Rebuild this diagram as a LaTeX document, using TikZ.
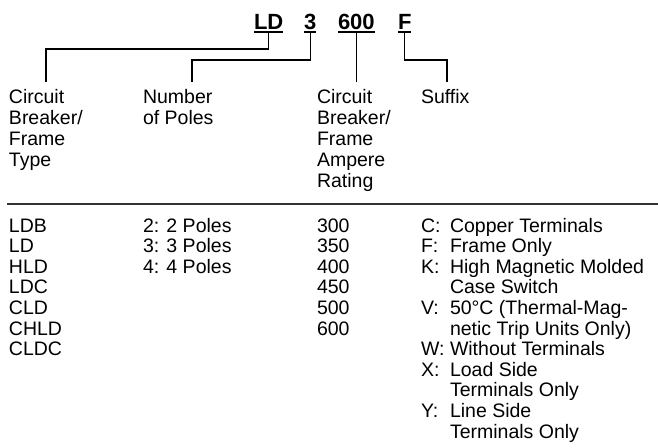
\documentclass[tikz,border=0pt]{standalone}
\usepackage{fontspec}
\setmainfont{Liberation Sans}
\usetikzlibrary{positioning}

\tikzstyle{code} = [font=\fontsize{22}{22}\selectfont\bfseries, anchor=base west]
\tikzstyle{lbl} = [font=\fontsize{19.5}{21.2}\selectfont, anchor=base west, align=left]
\tikzstyle{row} = [font=\fontsize{19.5}{20.6}\selectfont, anchor=base west, align=left]
\tikzstyle{uline} = [line width=1.3pt]
\tikzstyle{lead} = [line width=1.2pt]
\tikzstyle{every node}=[inner sep=0pt, outer sep=0pt]

\begin{document}
\begin{tikzpicture}[x=1pt, y=-1pt]
  \useasboundingbox (0,0) rectangle (658,447);
  % the catalogue number
  \node[code] (ld) at (254,29) {LD};
  \node[code] (np) at (304,29) {3};
  \node[code] (amp) at (338,29) {600};
  \node[code] (suf) at (398,29) {F};
  \draw[uline] ([yshift=-3pt]ld.base west) -- ([yshift=-3pt]ld.base east) coordinate[midway] (ldm);
  \draw[uline] ([yshift=-3pt]np.base west) -- ([yshift=-3pt]np.base east) coordinate[midway] (npm);
  \draw[uline] ([yshift=-3pt]amp.base west) -- ([yshift=-3pt]amp.base east) coordinate[midway] (ampm);
  \draw[uline] ([yshift=-3pt]suf.base west) -- ([yshift=-3pt]suf.base east) coordinate[midway] (sufm);
  % column heads (placed at the baseline of their last line)
  \node[lbl] (h1) at (9,166.6) {Circuit\\Breaker/\\Frame\\Type};
  \node[lbl] (h2) at (143,124.2) {Number\\of Poles};
  \node[lbl] (h3) at (317,187.8) {Circuit\\Breaker/\\Frame\\Ampere\\Rating};
  \node[lbl] (h4) at (421,103) {Suffix};
  \coordinate (t1) at (46,82);
  \coordinate (t2) at (192,82);
  \coordinate (t4) at (447,82);
  % leaders
  \draw[lead] (ldm) -- ++(0,17) -| (t1);
  \draw[lead] (npm) -- ++(0,28) -| (t2);
  \draw[lead] (ampm) -- (ampm |- t1);
  \draw[lead] (sufm) -- ++(0,28) -| (t4);
  % rule
  \coordinate (r1) at (7,204);
  \coordinate (r2) at (658,204);
  \draw[line width=1.5pt, black!80] (r1) -- (r2);
  % entries
  \node[row] (c1) at (9,355.6) {LDB\\LD\\HLD\\LDC\\CLD\\CHLD\\CLDC};
  \node[row] (c2) at (143,273.2) {2: 2 Poles\\3: 3 Poles\\4: 4 Poles};
  \node[row] (c3) at (317,335) {300\\350\\400\\450\\500\\600};
  \node[row] (k1) at (421,417.4) {C:\\F:\\K:\\\\V:\\\\W:\\X:\\\\Y:};
  \node[row] (d1) at (450,438) {Copper Terminals\\Frame Only\\High Magnetic Molded\\Case Switch\\50°C (Thermal-Mag-\\netic Trip Units Only)\\Without Terminals\\Load Side\\Terminals Only\\Line Side\\Terminals Only};
\end{tikzpicture}
\end{document}
